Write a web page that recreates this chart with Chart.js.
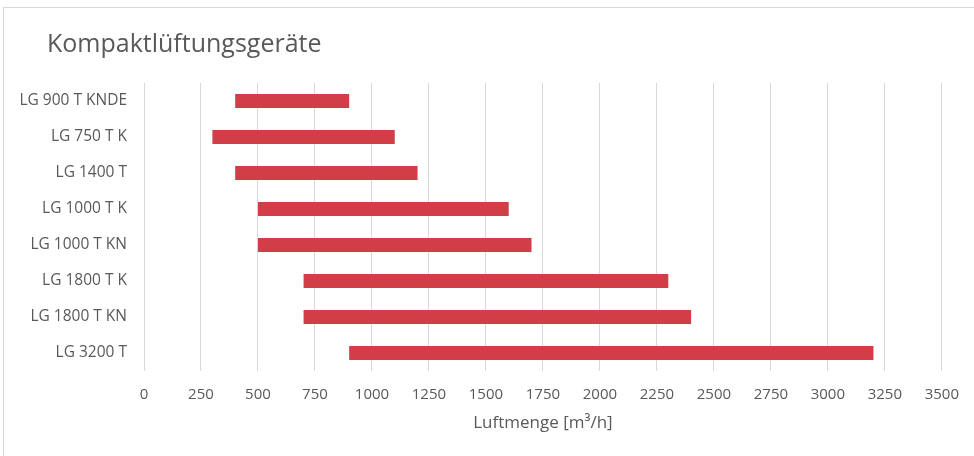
<!DOCTYPE html>
<html>
<head>
<meta charset="utf-8">
<script src="https://cdn.jsdelivr.net/npm/chart.js@4"></script>
<style>
    html, body { margin:0; padding:0; background:#fff; overflow:hidden; }
    .wrap { position:relative; width:974px; height:456px; }
    .frame { position:absolute; left:3px; top:7px; width:990px; height:470px; border:1px solid #d9d9d9; pointer-events:none; }
</style>
</head>
<body>
<div class="wrap">
    <canvas id="chart" width="974" height="456"></canvas>
    <div class="frame"></div>
</div>
<script>
// Geräte und Luftmengenbereich (von / bis)
const categories = ['LG 900 T KNDE', 'LG 750 T K', 'LG 1400 T', 'LG 1000 T K', 'LG 1000 T KN', 'LG 1800 T K', 'LG 1800 T KN', 'LG 3200 T'];
const minValues = [400, 300, 400, 500, 500, 700, 700, 900];
const maxValues = [900, 1100, 1200, 1600, 1700, 2300, 2400, 3200];
const xTicks = [0, 250, 500, 750, 1000, 1250, 1500, 1750, 2000, 2250, 2500, 2750, 3000, 3250, 3500];
const chartTitle = 'Kompaktlüftungsgeräte';

const font = "'Open Sans', 'Noto Sans', sans-serif";
const textColor = '#595959';

// title drawn left of the plot, like in the excel chart
const titlePlugin = {
    id: 'leftTitle',
    afterDraw(chart){
        const c = chart.ctx;
        c.save();
        c.fillStyle = textColor;
        c.font = "25px " + font;
        c.textBaseline = 'alphabetic';
        c.textAlign = 'left';
        c.fillText(chartTitle, 47, 52);
        c.restore();
    }
};

const ctx = document.getElementById('chart').getContext('2d');
new Chart(ctx, {
    type: 'bar',
    data: {
        labels: categories,
        datasets: [{
            label: 'Luftmenge',
            data: minValues.map((v, i) => [v, maxValues[i]]),
            backgroundColor: '#d23e48',
            borderWidth: 0,
            borderSkipped: false,
            barPercentage: 0.39,
            categoryPercentage: 1
        }]
    },
    options: {
        indexAxis: 'y',
        responsive: false,
        animation: false,
        layout: { padding: { left: 8, right: 30, top: 83, bottom: 0 } },
        plugins: {
            legend: { display: false },
            tooltip: { enabled: false },
            title: { display: false }
        },
        scales: {
            x: {
                min: 0,
                max: 3500,
                afterBuildTicks: scale => { scale.ticks = xTicks.map(v => ({ value: v })); },
                afterFit: scale => { scale.height = 85; },
                grid: { color: '#d9d9d9', drawTicks: false },
                border: { display: false },
                ticks: { color: textColor, font: { family: font, size: 15 }, padding: 15, maxRotation: 0, callback: v => String(v) },
                title: {
                    display: true,
                    text: 'Luftmenge [m³/h]',
                    color: textColor,
                    font: { family: font, size: 17 },
                    padding: { top: 0, bottom: 23 }
                }
            },
            y: {
                afterFit: scale => { scale.width = 136; },
                grid: { display: false, drawTicks: false },
                border: { display: false },
                ticks: { color: textColor, font: { family: font, size: 15.5 }, padding: 17 }
            }
        }
    },
    plugins: [titlePlugin]
});
</script>
</body>
</html>
